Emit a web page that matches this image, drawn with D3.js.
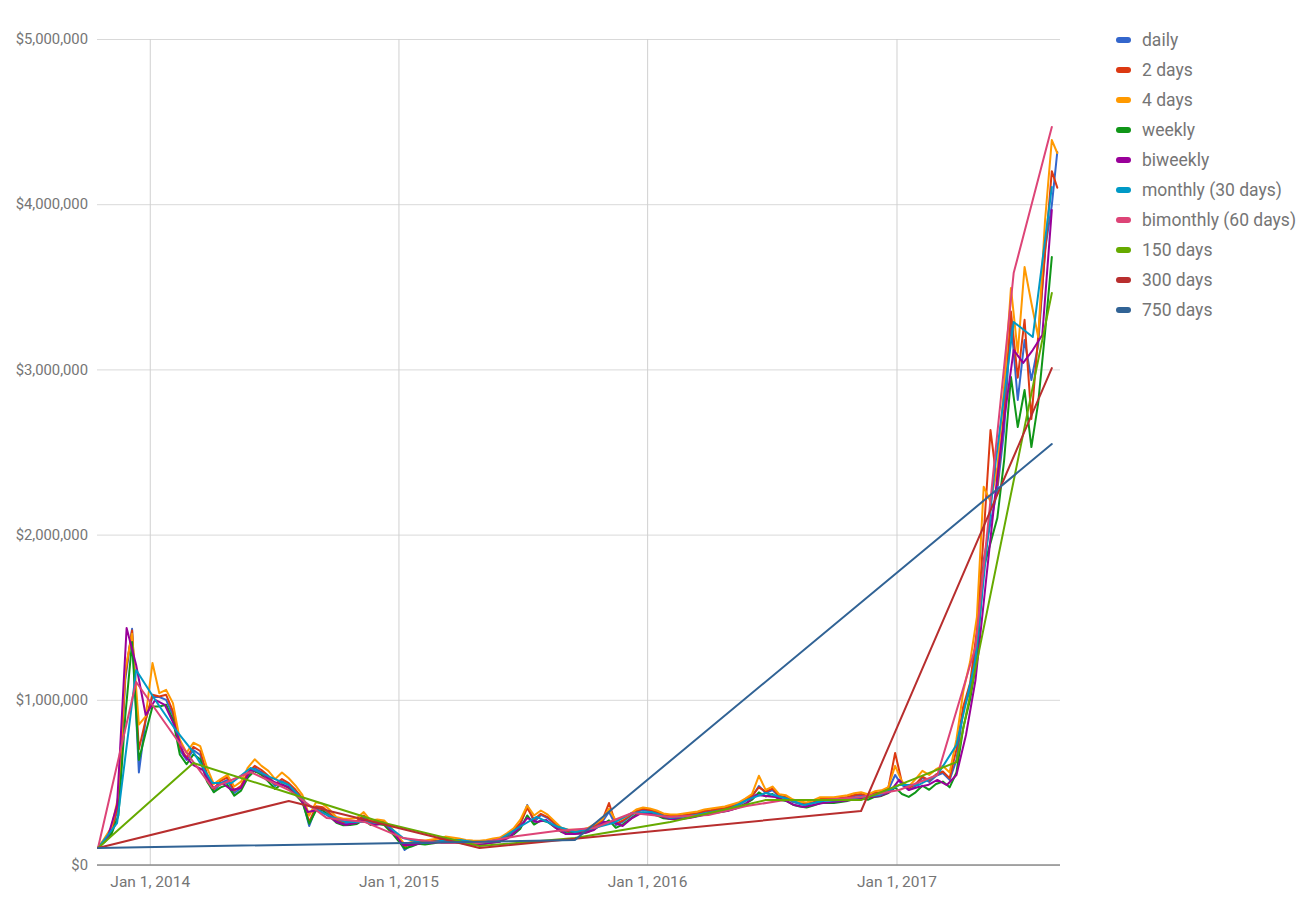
<!DOCTYPE html>
<html><head><meta charset="utf-8">
<script src="https://cdn.jsdelivr.net/npm/d3@7"></script>
<style>body{margin:0;background:#fff;font-family:Roboto,Arial,sans-serif;}</style>
</head><body><svg id="chart" width="1305" height="904"></svg>
<script>
// ---------- DATA (values in thousands of US dollars) ----------
const startDate = "2013-10-17";
const lastDay = 1408;
const seriesNames = ["daily","2 days","4 days","weekly","biweekly","monthly (30 days)","bimonthly (60 days)","150 days","300 days","750 days"];
const sampleStepDays = [10,10,10,10,14,28,56,140,280,700];
const xTickLabels = ["2014-01-01","2015-01-01","2016-01-01","2017-01-01"];
const yTickValues = [0,1000,2000,3000,4000,5000];

const dailyValues = [103,151,194,363,1120,1430,560,880,1017,1017,
1000,908,696,636,696,666,527,442,496,515,
436,466,545,587,563,527,478,508,484,442,
393,236,345,345,309,266,254,254,260,291,
254,260,254,212,163,91,121,139,133,139,
145,157,151,145,139,133,133,139,145,151,
176,200,242,363,260,303,284,248,212,200,
200,200,212,236,260,321,242,260,291,321,
333,327,315,297,291,291,297,303,309,321,
327,333,339,351,363,387,412,478,436,454,
412,406,381,369,363,375,393,393,393,399,
406,418,424,412,430,436,454,545,484,454,
478,527,503,539,557,515,636,938,1059,1362,
1846,2070,2270,2633,3299,2815,3178,2936,3148,3723,
3995,4316];
const twoDayValues = [103,155,205,380,1150,1420,700,880,1030,1020,
1030,930,715,650,715,690,550,460,510,530,
450,480,560,600,575,540,490,520,495,455,
405,260,355,350,315,275,260,262,268,300,
262,266,260,218,168,110,130,142,138,145,
150,160,155,150,143,138,137,143,150,157,
182,210,255,345,275,310,290,255,218,205,
205,205,217,242,268,375,250,268,298,328,
340,333,322,303,297,297,303,309,315,327,
333,340,345,357,370,395,420,470,445,462,
420,410,387,375,370,382,400,400,400,406,
412,424,430,418,436,442,466,678,500,466,
490,535,512,548,566,525,700,960,1100,1420,
2000,2633,2300,2750,3350,2950,3300,2700,3200,3700,
4200,4100];
const fourDayValues = [103,165,230,420,1180,1400,850,900,1223,1040,
1060,980,760,680,740,720,590,490,520,545,
475,505,590,640,600,570,520,560,525,480,
425,300,380,370,335,290,280,280,285,320,
270,276,270,228,178,125,140,152,148,154,
160,172,166,160,152,148,147,152,160,166,
192,222,275,360,300,330,305,265,226,214,
214,214,226,250,276,340,270,280,305,336,
348,342,330,312,306,306,312,318,324,336,
342,348,354,366,378,402,430,540,455,475,
428,422,396,384,378,392,410,410,410,416,
422,434,440,428,446,452,472,600,505,475,
520,570,545,580,600,560,760,1050,1230,1500,
2290,2200,2400,2900,3493,3100,3620,3402,3196,3900,
4388,4310];
const weeklyValues = [103,140,190,300,900,1350,636,800,960,960,
970,880,670,610,670,640,505,440,470,485,
420,450,530,570,545,505,460,490,465,425,
380,250,330,330,295,255,240,242,248,275,
242,248,242,200,150,100,112,128,124,130,
136,145,140,135,128,124,124,130,136,142,
165,185,220,300,245,270,260,230,200,190,
190,190,200,222,245,270,225,245,275,305,
318,312,300,283,278,278,283,290,296,307,
313,318,325,336,348,370,395,440,415,430,
395,388,365,354,348,360,375,375,375,381,
388,400,406,395,412,418,436,470,430,412,
440,480,455,490,505,470,560,830,1000,1250,
1800,1950,2100,2450,2954,2651,2875,2530,2797,3220,
3680];
const biweeklyValues = [103,163,363,1435,1211,908,999,969,847,666,
605,575,466,496,454,466,575,563,515,490,
472,424,321,333,303,260,242,254,272,242,
254,194,121,121,133,133,145,145,139,127,
121,133,139,163,212,284,260,272,224,188,
188,194,212,260,260,236,284,315,309,297,
278,278,284,297,309,321,327,345,375,424,
418,412,393,363,351,363,375,381,387,393,
406,412,418,442,515,454,472,484,515,484,
545,787,1120,1665,2209,2694,3117,3039,3117,3208,
3965];
const monthlyValues = [103,254,1180,999,829,684,496,496,587,533,
484,363,303,260,260,254,163,133,145,151,
133,151,224,291,236,200,224,254,315,321,
284,297,315,333,393,436,406,363,387,393,
412,424,484,484,545,726,1241,2391,3287,3196,
4104];
const bimonthlyValues = [103,1108,781,466,563,454,284,260,163,133,
133,176,206,224,315,291,303,357,393,393,
412,454,545,1320,3583,4467];
const days150Values = [103,617,436,254,115,163,260,393,393,623,3462];
const days300Values = [103,387,103,215,327,3008];
const days750Values = [103,151,2548];

const seriesValues = [dailyValues,twoDayValues,fourDayValues,weeklyValues,biweeklyValues,
  monthlyValues,bimonthlyValues,days150Values,days300Values,days750Values];

// ---------- STYLE ----------
const colors = ["#3366cc","#dc3912","#ff9900","#109618","#990099","#0099c6","#dd4477","#66aa00","#b82e2e","#316395"];
const font = "Roboto, Arial, sans-serif";

const svg = d3.select("#chart");
const parse = d3.utcParse("%Y-%m-%d");
const start = parse(startDate);
const x = d3.scaleUtc().domain([start, parse("2017-08-29")]).range([98, 1060]);
const y = d3.scaleLinear().domain([0, 5000]).range([865, 39]);

// horizontal grid + y labels
const yAxis = d3.axisLeft(y).tickValues(yTickValues)
  .tickFormat(d => "$" + d3.format(",")(d * 1000))
  .tickSize(-(1060 - 97)).tickPadding(9);
const gy = svg.append("g").attr("transform", "translate(97,0)").call(yAxis);
gy.select(".domain").remove();
gy.selectAll(".tick line").attr("stroke", "#d9d9d9");
gy.selectAll(".tick text").attr("fill", "#757575").style("font-size", "14.8px").style("font-family", font);

// vertical grid + x labels
const xAxis = d3.axisBottom(x).tickValues(xTickLabels.map(parse))
  .tickFormat(d3.utcFormat("%b %-d, %Y"))
  .tickSize(-(865 - 39)).tickPadding(11);
const gx = svg.append("g").attr("transform", "translate(0,865)").call(xAxis);
gx.select(".domain").remove();
gx.selectAll(".tick line").attr("stroke", "#d0d0d0");
gx.selectAll(".tick text").attr("fill", "#757575").style("font-size", "15.5px").style("font-family", font);

// baseline on top of vertical gridlines
svg.append("line").attr("x1", 97).attr("x2", 1060).attr("y1", y(0)).attr("y2", y(0))
  .attr("stroke", "#8c8c8c").attr("stroke-width", 1.5);

// series lines
const line = d3.line().x(d => x(d.date)).y(d => y(d.value));
seriesValues.forEach((vals, s) => {
  const pts = vals.map((v, i) => ({
    date: d3.utcDay.offset(start, Math.min(i * sampleStepDays[s], lastDay)),
    value: v
  }));
  svg.append("path").datum(pts)
    .attr("fill", "none").attr("stroke", colors[s]).attr("stroke-width", 2)
    .attr("stroke-linejoin", "round").attr("stroke-linecap", "round")
    .attr("d", line);
});

// legend
const lg = svg.append("g");
seriesNames.forEach((name, s) => {
  const cy = 40 + s * 30;
  lg.append("rect").attr("x", 1116).attr("y", cy - 3).attr("width", 15).attr("height", 6)
    .attr("rx", 3).attr("fill", colors[s]);
  lg.append("text").attr("x", 1142).attr("y", cy).attr("dominant-baseline", "central")
    .attr("fill", "#757575").style("font-size", "17.5px").style("font-family", font)
    .text(name);
});
</script></body></html>
